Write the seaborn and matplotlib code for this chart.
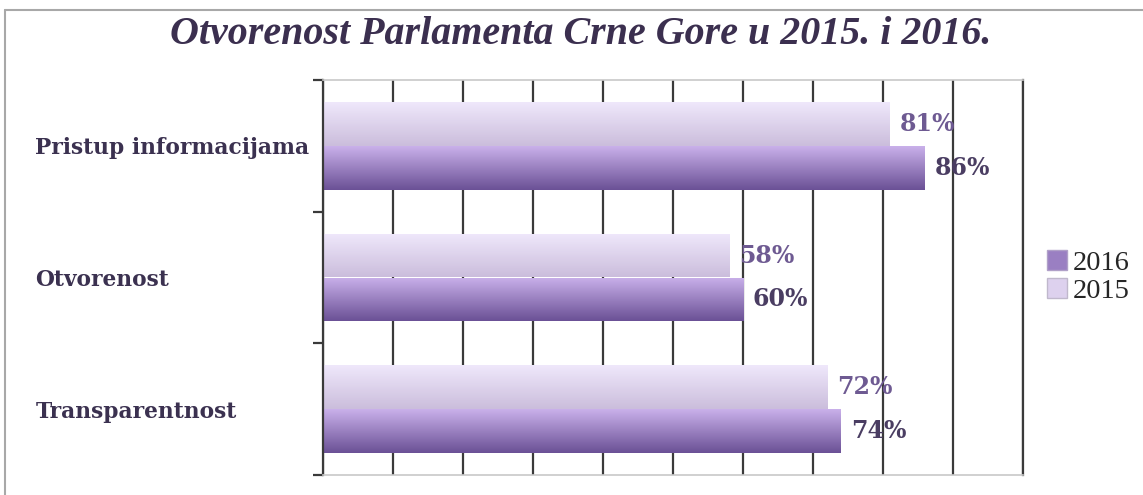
import numpy as np
import pandas as pd
import matplotlib
matplotlib.use("Agg")
import matplotlib.pyplot as plt
from matplotlib.colors import LinearSegmentedColormap
from matplotlib.patches import Patch
from matplotlib.lines import Line2D
import seaborn as sns

categories = ["Pristup informacijama", "Otvorenost", "Transparentnost"]
years = ["2015", "2016"]
values_2015 = [81, 58, 72]
values_2016 = [86, 60, 74]
title = "Otvorenost Parlamenta Crne Gore u 2015. i 2016."

df = pd.DataFrame({
    "cat": categories * 2,
    "year": ["2015"] * 3 + ["2016"] * 3,
    "val": values_2015 + values_2016,
})

sns.set_theme(style="white")
plt.rcParams["font.family"] = ["DejaVu Serif", "DejaVu Sans"]

W, H = 1143, 495
fig = plt.figure(figsize=(W / 100, H / 100), dpi=100)
ax = fig.add_axes([323 / W, 1 - 475 / H, 700 / W, 395 / H])

grad = {
    "2015": ("#efe8fb", "#cbbddc"),
    "2016": ("#c9b0ea", "#6b5196"),
}
mid = {"2015": "#ddd1ee", "2016": "#9a7fc2"}

sns.barplot(data=df, y="cat", x="val", hue="year", hue_order=years,
            order=categories, orient="h", width=2 / 3, ax=ax,
            palette=mid, legend=False, saturation=1)

for cont, yr in zip(ax.containers, years):
    cmap = LinearSegmentedColormap.from_list("g" + yr, list(grad[yr]))
    for p in cont.patches:
        x0, y0, w, h = p.get_x(), p.get_y(), p.get_width(), p.get_height()
        g = np.linspace(0, 1, 64).reshape(-1, 1)
        im = ax.imshow(g, cmap=cmap, extent=(x0, x0 + w, y0 + h, y0),
                       origin="upper", aspect="auto", zorder=2)
        im.set_clip_path(p)
        p.set_facecolor("none")
        p.set_edgecolor("none")

label_colors = {"2015": "#6e5a92", "2016": "#4a3d62"}
for cont, yr, vals in zip(ax.containers, years, [values_2015, values_2016]):
    ax.bar_label(cont, labels=[f"{v}%" for v in vals], padding=7,
                 fontsize=17, fontweight="bold", color=label_colors[yr],
                 family="DejaVu Serif", zorder=5)

ax.set_xlim(0, 100)
ax.set_ylim(2.5, -0.5)
ax.set_xticks(np.arange(0, 101, 10))
ax.set_xticklabels([])
ax.grid(axis="x", color="#3a3a3a", linewidth=1.6)
ax.grid(axis="y", visible=False)
ax.set_axisbelow(True)
ax.tick_params(axis="x", length=0)

ax.set_yticks(range(len(categories)))
ax.set_yticklabels(categories)
ax.set_yticks([-0.5, 0.5, 1.5, 2.5], minor=True)
ax.tick_params(axis="y", which="major", length=0, pad=207)
ax.tick_params(axis="y", which="minor", length=7, width=1.6, color="#3a3a3a", left=True)
for t in ax.get_yticklabels():
    t.set_horizontalalignment("left")
    t.set_fontsize(15.7)
    t.set_fontweight("bold")
    t.set_color("#3b3150")
ax.set_xlabel("")
ax.set_ylabel("")

for s in ["top", "bottom"]:
    ax.spines[s].set_color("#c8c8c8")
    ax.spines[s].set_linewidth(1.2)
for s in ["left", "right"]:
    ax.spines[s].set_color("#3a3a3a")
    ax.spines[s].set_linewidth(1.6)

handles = [Patch(facecolor=mid["2016"], edgecolor="#b0a0c8", label="2016"),
           Patch(facecolor=mid["2015"], edgecolor="#c0b8cc", label="2015")]
fig.legend(handles=handles, loc="center left",
           bbox_to_anchor=(1047 / W, 1 - 277 / H), frameon=False,
           prop={"family": "Liberation Serif", "size": 20.5},
           handlelength=0.7, handleheight=0.7, handletextpad=0.2,
           labelspacing=0.1, borderaxespad=0, borderpad=0)

fig.text(0.508, 1 - 34 / H, title, ha="center", va="center",
         fontsize=28.8, fontweight="bold", fontstyle="italic",
         family="Liberation Serif", color="#3b2f4f")

fig.add_artist(Line2D([5 / W, 5 / W], [0, 1 - 10 / H], transform=fig.transFigure,
                      color="#a8a8a8", linewidth=1.5))
fig.add_artist(Line2D([5 / W, 1], [1 - 10 / H, 1 - 10 / H], transform=fig.transFigure,
                      color="#a8a8a8", linewidth=1.5))

fig.savefig("out.png", dpi=100)
